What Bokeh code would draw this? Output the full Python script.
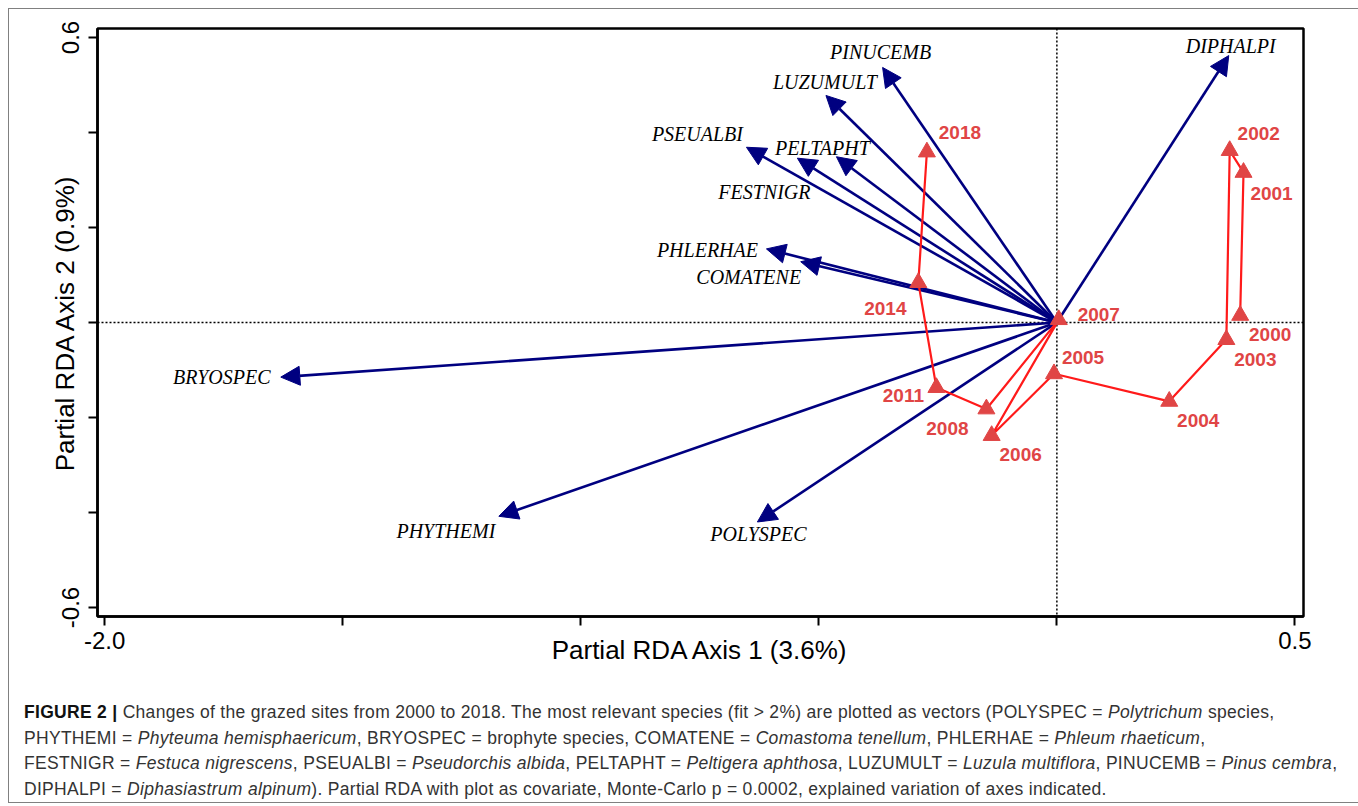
import numpy as np
from bokeh.plotting import figure
from bokeh.models import (Div, Range1d, FixedTicker, Arrow, NormalHead,
                          ColumnDataSource, Span)
from bokeh.layouts import column
from bokeh.core.properties import value
from bokeh.embed import file_html
from bokeh.resources import INLINE

# ---------------- data ----------------
species = ["DIPHALPI", "PINUCEMB", "LUZUMULT", "PSEUALBI", "PELTAPHT", "FESTNIGR",
           "PHLERHAE", "COMATENE", "BRYOSPEC", "PHYTHEMI", "POLYSPEC"]
species_x = [0.361, -0.366, -0.485, -0.652, -0.463, -0.545, -0.610, -0.538, -1.630, -1.172, -0.629]
species_y = [0.562, 0.537, 0.478, 0.369, 0.349, 0.346, 0.155, 0.128, -0.115, -0.408, -0.420]

years = ["2000", "2001", "2002", "2003", "2004", "2005", "2006", "2007", "2008", "2011", "2014", "2018"]
years_x = [0.385, 0.392, 0.363, 0.356, 0.236, -0.006, -0.137, 0.004, -0.148, -0.253, -0.291, -0.273]
years_y = [0.015, 0.316, 0.362, -0.036, -0.166, -0.108, -0.238, 0.006, -0.182, -0.137, 0.084, 0.359]

x_ticks = [-2.0, -1.5, -1.0, -0.5, 0.0, 0.5]
x_tick_labels = {-2.0: "-2.0", 0.5: "0.5"}
y_ticks = [-0.6, -0.4, -0.2, 0.0, 0.2, 0.4, 0.6]
y_tick_labels = {0.6: "0.6", -0.6: "-0.6"}

x_title = "Partial RDA Axis 1 (3.6%)"
y_title = "Partial RDA Axis 2 (0.9%)"

# label placement (pixel offsets from arrow tip / point)
species_dx = [2, -2, -1, -49, -14, -33, -59, -52, -59, -53, 1]
species_dy = [-10, -15, -13, -13, -9, 34, 1, 15, 0, 15, 12]
years_dx = [30, 28, 29, 29, 29, 29, 29, 40, -39, -33, -33, 33]
years_dy = [19, 21, -17, 20, 19, -16, 19, -5, 20, 8, 26, -19]

NAVY = "#000080"
RED_LINE = "#ff1a1a"
RED_MARK = "#e04545"

p = figure(width=1344, height=671,
           x_range=Range1d(-2.015, 0.518), y_range=Range1d(-0.619, 0.619),
           output_backend="svg", toolbar_location=None,
           min_border_left=88, min_border_right=50, min_border_top=19, min_border_bottom=64)
p.grid.visible = False
p.outline_line_color = "black"
p.outline_line_width = 2.5
p.background_fill_color = "white"
p.border_fill_color = "white"

for ax in (p.xaxis[0], p.yaxis[0]):
    ax.axis_line_width = 2.5
    ax.major_tick_line_width = 2
    ax.major_tick_out = 9
    ax.major_tick_in = 0
    ax.minor_tick_line_color = None
    ax.major_label_text_font = "Liberation Sans"
    ax.major_label_text_font_size = "24px"
    ax.major_label_text_color = "black"
    ax.axis_label_text_font = "Liberation Sans"
    ax.axis_label_text_font_size = "26px"
    ax.axis_label_text_font_style = "normal"
    ax.axis_label_text_color = "black"

p.xaxis[0].ticker = FixedTicker(ticks=x_ticks)
xlo = {t: "" for t in x_ticks}
xlo.update(x_tick_labels)
p.xaxis[0].major_label_overrides = xlo
p.xaxis[0].major_label_standoff = 6
p.xaxis[0].axis_label = x_title
p.xaxis[0].axis_label_standoff = -17

p.yaxis[0].ticker = FixedTicker(ticks=y_ticks)
ylo = {t: "" for t in y_ticks}
ylo.update(y_tick_labels)
p.yaxis[0].major_label_overrides = ylo
p.yaxis[0].major_label_orientation = "vertical"
p.yaxis[0].major_label_standoff = 9
p.yaxis[0].axis_label = y_title
p.yaxis[0].axis_label_standoff = -20

# dotted zero lines
for dim in ("height", "width"):
    p.add_layout(Span(location=0, dimension=dim, line_color="black",
                      line_dash="2 2", line_width=1.5, level="underlay"))

# species vectors
sp_src = ColumnDataSource(dict(x0=[0.0] * len(species), y0=[0.0] * len(species),
                               x1=species_x, y1=species_y, name=species,
                               dx=species_dx, dy=species_dy))
p.add_layout(Arrow(end=NormalHead(size=19, fill_color=NAVY, line_color=NAVY, line_width=1),
                   x_start="x0", y_start="y0", x_end="x1", y_end="y1",
                   line_color=NAVY, line_width=2.6, source=sp_src, level="underlay"))
p.text(x="x1", y="y1", text="name", source=sp_src, x_offset="dx", y_offset="dy",
       text_font=value("Liberation Serif"), text_font_style="italic",
       text_font_size="20px", text_color="black",
       text_align="center", text_baseline="middle")

# year trajectory
yr_src = ColumnDataSource(dict(x=years_x, y=years_y, year=years, dx=years_dx, dy=years_dy))
p.line(x="x", y="y", source=yr_src, line_color=RED_LINE, line_width=2.2)
p.scatter(x="x", y="y", source=yr_src, marker="triangle", size=17,
          fill_color=RED_MARK, line_color=RED_MARK)
p.text(x="x", y="y", text="year", source=yr_src, x_offset="dx", y_offset="dy",
       text_font=value("Liberation Sans"), text_font_style="bold",
       text_font_size="19px", text_color=RED_MARK,
       text_align="center", text_baseline="middle")

caption_html = (
    '<div style="font-family: \'Liberation Sans\', Arial, sans-serif; font-size: 17.5px; line-height: 25.6px; '
    'letter-spacing: 0.3px; color: #333; white-space: nowrap; padding: 15px 0 0 10px;">'
    '<b style="color:#111;">FIGURE 2 |</b> Changes of the grazed sites from 2000 to 2018. The most relevant species '
    '(fit &gt; 2%) are plotted as vectors (POLYSPEC = <i>Polytrichum</i> species,<br>'
    'PHYTHEMI = <i>Phyteuma hemisphaericum</i>, BRYOSPEC = brophyte species, COMATENE = '
    '<i>Comastoma tenellum</i>, PHLERHAE = <i>Phleum rhaeticum</i>,<br>'
    'FESTNIGR = <i>Festuca nigrescens</i>, PSEUALBI = <i>Pseudorchis albida</i>, PELTAPHT = '
    '<i>Peltigera aphthosa</i>, LUZUMULT = <i>Luzula multiflora</i>, PINUCEMB = <i>Pinus cembra</i>,<br>'
    'DIPHALPI = <i>Diphasiastrum alpinum</i>). Partial RDA with plot as covariate, '
    'Monte-Carlo p = 0.0002, explained variation of axes indicated.'
    '</div>'
)
cap = Div(text=caption_html, width=1344, height=112)

layout = column(p, cap, styles={"border": "1px solid #808080", "background-color": "white",
                                "margin": "8px 0 0 8px"})

open("out.html", "w").write(file_html(layout, INLINE))
